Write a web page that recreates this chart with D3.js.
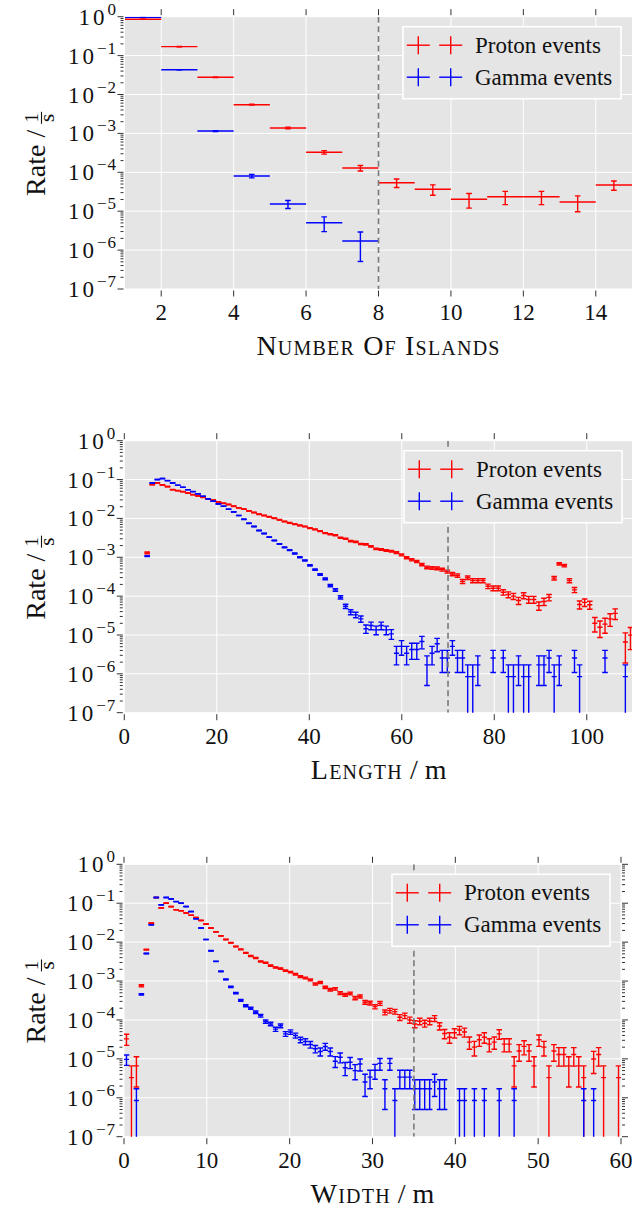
<!DOCTYPE html>
<html><head><meta charset="utf-8">
<script src="https://cdn.jsdelivr.net/npm/d3@7"></script>
<style>
html,body{margin:0;padding:0;background:#fff;}
svg{display:block;font-family:'Liberation Serif','DejaVu Serif','Times New Roman',Times,serif;}
svg text{font-family:'Liberation Serif','DejaVu Serif','Times New Roman',Times,serif;fill:#111;}
</style></head><body>
<svg id="fig" width="632" height="1211"></svg>
<script>
// ---------- Number of islands ----------
const islandCenters = [1.5, 2.5, 3.5, 4.5, 5.5, 6.5, 7.5, 8.5, 9.5, 10.5, 11.5, 12.5, 13.5, 14.5];
const islandProton = [0.86, 0.17, 0.0277, 0.00547, 0.00138, 3.27e-4, 1.29e-4, 5.4e-5, 3.66e-5, 2.02e-5, 2.36e-5, 2.36e-5, 1.72e-5, 4.71e-5];
const islandProtonErr = [1.68e-3, 7.5e-4, 3.0e-4, 1.34e-4, 6.7e-5, 3.3e-5, 2.06e-5, 1.33e-5, 1.1e-5, 8.2e-6, 8.8e-6, 8.8e-6, 7.5e-6, 1.25e-5];
const islandGamma = [0.96, 0.0434, 1.15e-3, 8.0e-5, 1.53e-5, 5.06e-6, 1.71e-6];
const islandGammaErr = [9.0e-4, 1.9e-4, 3.1e-5, 8.2e-6, 3.6e-6, 2.07e-6, 1.2e-6];
const islandTicks = [2, 4, 6, 8, 10, 12, 14];

// ---------- Length (bins of 1.1 m from 0 m) ----------
const lengthBinWidth = 1.1;
const lengthProton = [
  0, 0, 0, 0, 1.3e-3, 0.074, 0.082, 0.073, 0.066, 0.055,
  0.052, 0.049, 0.045, 0.041, 0.038, 0.035, 0.032, 0.0295, 0.0266, 0.0245,
  0.0228, 0.0206, 0.0187, 0.0173, 0.0156, 0.0142, 0.0128, 0.0119, 0.011, 0.0101,
  0.0092, 0.0083, 0.0077, 0.0071, 0.0066, 0.0062, 0.0056, 0.0052, 0.0047, 0.0042,
  0.0039, 0.0037, 0.0032, 0.0030, 0.0026, 0.0025, 0.0022, 0.00215, 0.0019, 0.00165,
  0.00158, 0.00149, 0.00144, 0.00132, 0.00115, 0.00097, 0.00086, 0.00078, 0.00065, 0.00055,
  0.00053, 0.00052, 0.00048, 0.00043, 0.00037, 0.00034, 0.00024, 0.00030, 0.00025, 0.00025,
  0.00025, 0.00018, 0.00016, 0.00016, 0.000126, 0.00011, 0.0001, 7.7e-5, 1.04e-4, 8.2e-5,
  8.2e-5, 5.7e-5, 7.3e-5, 9.3e-5, 2.9e-4, 6.8e-4, 6.1e-4, 2.5e-4, 1.45e-4, 6.1e-5,
  6.9e-5, 6.0e-5, 2.0e-5, 1.58e-5, 1.9e-5, 2.6e-5, 3.6e-5, 0, 6.6e-6, 9.9e-6];
const lengthProtonErr = [
  0, 0, 0, 0, 6.5e-5, 4.9e-4, 5.2e-4, 4.9e-4, 4.7e-4, 4.3e-4,
  4.1e-4, 4.0e-4, 3.9e-4, 3.7e-4, 3.5e-4, 3.4e-4, 3.2e-4, 3.1e-4, 3.0e-4, 2.8e-4,
  2.7e-4, 2.6e-4, 2.5e-4, 2.4e-4, 2.3e-4, 2.2e-4, 2.1e-4, 2.0e-4, 1.9e-4, 1.8e-4,
  1.7e-4, 1.65e-4, 1.6e-4, 1.5e-4, 1.5e-4, 1.4e-4, 1.36e-4, 1.3e-4, 1.25e-4, 1.18e-4,
  1.13e-4, 1.1e-4, 1.03e-4, 9.9e-5, 9.3e-5, 9.1e-5, 8.5e-5, 8.4e-5, 7.9e-5, 7.4e-5,
  7.2e-5, 7.0e-5, 6.9e-5, 6.6e-5, 6.2e-5, 5.7e-5, 5.3e-5, 5.1e-5, 4.6e-5, 4.3e-5,
  4.2e-5, 4.1e-5, 4.0e-5, 3.8e-5, 3.5e-5, 3.3e-5, 2.8e-5, 3.1e-5, 2.9e-5, 2.9e-5,
  2.9e-5, 2.4e-5, 2.3e-5, 2.3e-5, 2.0e-5, 1.9e-5, 1.8e-5, 1.6e-5, 1.85e-5, 1.64e-5,
  1.64e-5, 1.37e-5, 1.55e-5, 1.75e-5, 3.1e-5, 4.7e-5, 4.5e-5, 2.9e-5, 2.2e-5, 1.42e-5,
  1.5e-5, 1.4e-5, 8.1e-6, 7.2e-6, 7.9e-6, 9.3e-6, 1.09e-5, 0, 4.7e-6, 5.7e-6];
const lengthGamma = [
  0, 0, 0, 0, 1.07e-3, 0.082, 0.1, 0.106, 0.094, 0.082,
  0.071, 0.063, 0.055, 0.049, 0.043, 0.037, 0.032, 0.0276, 0.0236, 0.0205,
  0.0172, 0.0147, 0.0119, 0.0095, 0.0075, 0.0062, 0.0049, 0.0041, 0.0033, 0.0027,
  0.0022, 0.0018, 0.00152, 0.00125, 0.0010, 0.00083, 0.00062, 0.00048, 0.00036, 0.00028,
  1.87e-4, 1.45e-4, 9.3e-5, 5.5e-5, 3.9e-5, 3.3e-5, 2.6e-5, 1.45e-5, 1.75e-5, 1.35e-5,
  1.75e-5, 1.35e-5, 1.07e-5, 3.4e-6, 5.1e-6, 3.4e-6, 4.25e-6, 4.25e-6, 6.8e-6, 1.7e-6,
  3.4e-6, 5.95e-6, 2.55e-6, 2.55e-6, 5.1e-6, 2.55e-6, 2.55e-6, 8.5e-7, 8.5e-7, 1.7e-6,
  0, 0, 2.55e-6, 0, 2.55e-6, 8.5e-7, 8.5e-7, 1.7e-6, 8.5e-7, 8.5e-7,
  0, 1.7e-6, 1.7e-6, 2.55e-6, 8.5e-7, 1.7e-6, 0, 0, 2.55e-6, 8.5e-7,
  0, 0, 0, 0, 2.55e-6, 0, 0, 0, 8.5e-7, 0];
const lengthGammaErr = [
  0, 0, 0, 0, 3.0e-5, 2.6e-4, 2.9e-4, 3.0e-4, 2.8e-4, 2.6e-4,
  2.5e-4, 2.3e-4, 2.2e-4, 2.0e-4, 1.9e-4, 1.8e-4, 1.65e-4, 1.5e-4, 1.4e-4, 1.3e-4,
  1.2e-4, 1.1e-4, 1.0e-4, 9.0e-5, 8.0e-5, 7.3e-5, 6.5e-5, 5.9e-5, 5.3e-5, 4.8e-5,
  4.3e-5, 3.9e-5, 3.6e-5, 3.3e-5, 2.9e-5, 2.7e-5, 2.3e-5, 2.0e-5, 1.75e-5, 1.54e-5,
  1.26e-5, 1.1e-5, 8.9e-6, 6.8e-6, 5.8e-6, 5.3e-6, 4.7e-6, 3.5e-6, 3.9e-6, 3.4e-6,
  3.9e-6, 3.4e-6, 3.0e-6, 1.7e-6, 2.08e-6, 1.7e-6, 1.9e-6, 1.9e-6, 2.4e-6, 1.2e-6,
  1.7e-6, 2.25e-6, 1.47e-6, 1.47e-6, 2.08e-6, 1.47e-6, 1.47e-6, 8.5e-7, 8.5e-7, 1.2e-6,
  0, 0, 1.47e-6, 0, 1.47e-6, 8.5e-7, 8.5e-7, 1.2e-6, 8.5e-7, 8.5e-7,
  0, 1.2e-6, 1.2e-6, 1.47e-6, 8.5e-7, 1.2e-6, 0, 0, 1.47e-6, 8.5e-7,
  0, 0, 0, 0, 1.47e-6, 0, 0, 0, 8.5e-7, 0];
const lengthTicks = [0, 20, 40, 60, 80, 100];

// ---------- Width (bins of 0.6 m from 0 m) ----------
const widthBinWidth = 0.6;
const widthProton = [
  3.26e-5, 3.3e-6, 6.6e-6, 7.6e-4, 6.4e-3, 0.031, 0.14, 0.076, 0.10, 0.082,
  0.068, 0.064, 0.056, 0.049, 0.043, 0.036, 0.029, 0.023, 0.0184, 0.0145,
  0.0117, 0.0096, 0.0077, 0.0065, 0.0053, 0.0044, 0.0039, 0.0032, 0.00295, 0.0025,
  0.00223, 0.0021, 0.00185, 0.0017, 0.0015, 0.0013, 0.0012, 0.00107, 0.00084, 0.00092,
  0.00069, 0.0006, 0.00063, 0.00049, 0.000445, 0.00048, 0.000365, 0.000405, 0.000285, 0.000273,
  0.00022, 0.000267, 0.000158, 0.000174, 0.000164, 0.000117, 0.000129, 0.0001, 7.9e-5, 9.3e-5,
  8.2e-5, 9.3e-5, 1.1e-4, 7.0e-5, 4.5e-5, 3.6e-5, 4.7e-5, 5.5e-5, 4.9e-5, 2.7e-5,
  2.0e-5, 3.1e-5, 3.6e-5, 2.4e-5, 2.7e-5, 4.4e-5, 2.4e-5, 2.4e-5, 6.6e-6, 1.6e-5,
  2.1e-5, 1.6e-5, 6.6e-6, 3.1e-5, 2.0e-5, 3.3e-6, 1.6e-5, 1.3e-5, 1.3e-5, 6.6e-6,
  1.3e-5, 6.6e-6, 3.3e-6, 0, 9.9e-6, 1.3e-5, 3.3e-6, 0, 0, 3.3e-6];
const widthProtonErr = [
  1.04e-5, 3.3e-6, 4.7e-6, 5.0e-5, 1.45e-4, 3.2e-4, 6.8e-4, 5.0e-4, 5.7e-4, 5.2e-4,
  4.7e-4, 4.6e-4, 4.3e-4, 4.0e-4, 3.8e-4, 3.4e-4, 3.1e-4, 2.8e-4, 2.5e-4, 2.2e-4,
  2.0e-4, 1.8e-4, 1.6e-4, 1.46e-4, 1.32e-4, 1.2e-4, 1.13e-4, 1.03e-4, 9.9e-5, 9.1e-5,
  8.6e-5, 8.3e-5, 7.8e-5, 7.5e-5, 7.0e-5, 6.5e-5, 6.3e-5, 5.9e-5, 5.3e-5, 5.5e-5,
  4.8e-5, 4.4e-5, 4.6e-5, 4.0e-5, 3.8e-5, 4.0e-5, 3.5e-5, 3.7e-5, 3.1e-5, 3.0e-5,
  2.7e-5, 3.0e-5, 2.3e-5, 2.4e-5, 2.3e-5, 2.0e-5, 2.1e-5, 1.8e-5, 1.6e-5, 1.75e-5,
  1.64e-5, 1.75e-5, 1.9e-5, 1.5e-5, 1.2e-5, 1.09e-5, 1.25e-5, 1.35e-5, 1.27e-5, 9.4e-6,
  8.1e-6, 1.0e-5, 1.09e-5, 8.9e-6, 9.4e-6, 1.2e-5, 8.9e-6, 8.9e-6, 4.7e-6, 7.3e-6,
  8.3e-6, 7.3e-6, 4.7e-6, 1.0e-5, 8.1e-6, 3.3e-6, 7.3e-6, 6.5e-6, 6.5e-6, 4.7e-6,
  6.5e-6, 4.7e-6, 3.3e-6, 0, 5.7e-6, 6.5e-6, 3.3e-6, 0, 0, 3.3e-6];
const widthGamma = [
  9.7e-6, 0, 8.5e-7, 4.54e-4, 5.1e-3, 0.028, 0.14, 0.091, 0.14, 0.129,
  0.11, 0.1, 0.082, 0.061, 0.04, 0.023, 0.0117, 0.006, 0.0032, 0.00177,
  0.0011, 0.00071, 0.00049, 0.00032, 0.000233, 0.0002, 0.000158, 0.000129, 9.1e-5, 7.9e-5,
  5.8e-5, 7.1e-5, 4.4e-5, 4.9e-5, 4.0e-5, 3.1e-5, 2.8e-5, 2.34e-5, 1.82e-5, 1.55e-5,
  2.08e-5, 1.55e-5, 8.7e-6, 1.1e-5, 5.9e-6, 8.2e-6, 5.0e-6, 7.4e-6, 2.55e-6, 3.4e-6,
  5.1e-6, 7.65e-6, 1.7e-6, 7.65e-6, 8.5e-7, 3.4e-6, 3.4e-6, 3.4e-6, 1.7e-6, 1.7e-6,
  1.7e-6, 1.7e-6, 2.55e-6, 1.7e-6, 1.7e-6, 0, 0, 8.5e-7, 8.5e-7, 0,
  8.5e-7, 0, 8.5e-7, 0, 0, 8.5e-7, 0, 0, 8.5e-7, 0,
  0, 0, 0, 0, 0, 0, 0, 0, 0, 0,
  0, 0, 8.5e-7, 0, 8.5e-7, 0, 0, 0, 0, 0];
const widthGammaErr = [
  2.9e-6, 0, 8.5e-7, 2.0e-5, 6.6e-5, 1.54e-4, 3.4e-4, 2.8e-4, 3.4e-4, 3.3e-4,
  3.1e-4, 2.9e-4, 2.6e-4, 2.3e-4, 1.8e-4, 1.4e-4, 1.0e-4, 7.1e-5, 5.2e-5, 3.9e-5,
  3.1e-5, 2.5e-5, 2.0e-5, 1.65e-5, 1.4e-5, 1.3e-5, 1.16e-5, 1.05e-5, 8.8e-6, 8.2e-6,
  7.0e-6, 7.8e-6, 6.1e-6, 6.5e-6, 5.8e-6, 5.1e-6, 4.9e-6, 4.5e-6, 3.9e-6, 3.6e-6,
  4.2e-6, 3.6e-6, 2.7e-6, 3.1e-6, 2.2e-6, 2.6e-6, 2.1e-6, 2.5e-6, 1.47e-6, 1.7e-6,
  2.1e-6, 2.55e-6, 1.2e-6, 2.55e-6, 8.5e-7, 1.7e-6, 1.7e-6, 1.7e-6, 1.2e-6, 1.2e-6,
  1.2e-6, 1.2e-6, 1.47e-6, 1.2e-6, 1.2e-6, 0, 0, 8.5e-7, 8.5e-7, 0,
  8.5e-7, 0, 8.5e-7, 0, 0, 8.5e-7, 0, 0, 8.5e-7, 0,
  0, 0, 0, 0, 0, 0, 0, 0, 0, 0,
  0, 0, 8.5e-7, 0, 8.5e-7, 0, 0, 0, 0, 0];
const widthTicks = [0, 10, 20, 30, 40, 50, 60];

const rateExponents = [0, -1, -2, -3, -4, -5, -6, -7];
const seriesNames = ["Proton events", "Gamma events"];

// ---------- drawing ----------
const FONT = "'Liberation Serif','DejaVu Serif','Times New Roman',Times,serif";
const svg = d3.select("#fig").attr("font-family", FONT);
const PROTON = "#ff0000", GAMMA = "#0000ff";
const TICK = "#333";
const LW = 1.4;

function binCenters(n, w) { return d3.range(n).map(i => (i + 0.5) * w); }

function drawPanel(p) {
  const x = d3.scaleLinear().domain(p.xDomain).range([p.left, p.right]);
  const y = d3.scaleLog().domain([1e-7, 1]).range([p.bottom, p.top]);
  const g = svg.append("g").attr("font-family", FONT);

  svg.append("clipPath").attr("id", "clip-" + p.id)
    .append("rect").attr("x", p.left).attr("y", p.top)
    .attr("width", p.right - p.left).attr("height", p.bottom - p.top);

  g.append("rect").attr("x", p.left).attr("y", p.top)
    .attr("width", p.right - p.left).attr("height", p.bottom - p.top)
    .attr("fill", "#e5e5e5");

  // grid
  const decades = rateExponents.map(e => Math.pow(10, e));
  g.append("g").selectAll("line").data(decades).join("line")
    .attr("x1", p.left).attr("x2", p.right)
    .attr("y1", d => y(d)).attr("y2", d => y(d))
    .attr("stroke", "#fff").attr("stroke-width", 1);
  g.append("g").selectAll("line").data(p.xTicks).join("line")
    .attr("x1", d => x(d)).attr("x2", d => x(d))
    .attr("y1", p.top).attr("y2", p.bottom)
    .attr("stroke", "#fff").attr("stroke-width", 1);

  // y ticks (left + right), major and minor
  const minors = [];
  for (let e = -7; e < 0; e++) for (let m = 2; m <= 9; m++) minors.push(m * Math.pow(10, e));
  const tk = g.append("g").attr("stroke", TICK).attr("stroke-width", 1);
  tk.selectAll("line.ymaj").data(decades).join("line").attr("class", "ymaj")
    .attr("x1", p.left - 7.5).attr("x2", p.left - 1.5)
    .attr("y1", d => y(d)).attr("y2", d => y(d));
  tk.selectAll("line.ymin").data(minors).join("line").attr("class", "ymin")
    .attr("x1", p.left - 4.5).attr("x2", p.left - 1.5)
    .attr("y1", d => y(d)).attr("y2", d => y(d));
  tk.selectAll("line.ymajr").data(decades).join("line").attr("class", "ymajr")
    .attr("x1", p.right + 1).attr("x2", p.right + 7)
    .attr("y1", d => y(d)).attr("y2", d => y(d));
  tk.selectAll("line.yminr").data(minors).join("line").attr("class", "yminr")
    .attr("x1", p.right + 1).attr("x2", p.right + 4)
    .attr("y1", d => y(d)).attr("y2", d => y(d));
  // x ticks (top + bottom)
  tk.selectAll("line.xb").data(p.xTicks).join("line").attr("class", "xb")
    .attr("x1", d => x(d)).attr("x2", d => x(d))
    .attr("y1", p.bottom + 1.5).attr("y2", p.bottom + 7.5);
  tk.selectAll("line.xt").data(p.xTicks).join("line").attr("class", "xt")
    .attr("x1", d => x(d)).attr("x2", d => x(d))
    .attr("y1", p.top - 1.5).attr("y2", p.top - 7.5);

  // y tick labels 10^e
  const yl = g.append("g").selectAll("text").data(rateExponents).join("text")
    .attr("x", p.left - 8).attr("y", e => y(Math.pow(10, e)) + 8)
    .attr("text-anchor", "end").attr("font-family", FONT);
  yl.append("tspan").attr("font-size", 23).attr("letter-spacing", 3).text("10");
  yl.append("tspan").attr("font-size", 17).attr("dy", -10).attr("letter-spacing", 1)
    .text(e => e < 0 ? "\u2212" + (-e) : String(e));

  // x tick labels
  g.append("g").selectAll("text").data(p.xTicks).join("text")
    .attr("x", d => x(d)).attr("y", p.bottom + 31)
    .attr("text-anchor", "middle").attr("font-size", 23).attr("font-family", FONT)
    .text(d => d);

  // x axis label
  const xl = g.append("text").attr("x", (p.left + p.right) / 2).attr("y", p.bottom + 66)
    .attr("text-anchor", "middle").attr("font-size", 28).attr("font-family", FONT);
  p.xLabel.forEach(part => {
    xl.append("tspan").style("font-variant", part.sc ? "small-caps" : "normal")
      .attr("letter-spacing", part.sc ? 1.2 : 0).text(part.t);
  });

  // y axis label: Rate / (1/s)
  const cy = (p.top + p.bottom) / 2 + 1;
  const lab = g.append("g").attr("transform", `translate(45,${cy}) rotate(-90)`).attr("font-family", FONT);
  const rt = lab.append("text").attr("font-size", 28).text("Rate /");
  const w = rt.node().getComputedTextLength();
  const fw = 12, gap = 6;
  const start = -(w + gap + fw) / 2;
  rt.attr("x", start).attr("y", 0);
  const fx = start + w + gap;
  lab.append("text").attr("x", fx + fw / 2).attr("y", -7).attr("text-anchor", "middle")
    .attr("font-size", 19).text("1");
  lab.append("line").attr("x1", fx).attr("x2", fx + fw).attr("y1", -3.5).attr("y2", -3.5)
    .attr("stroke", "#111").attr("stroke-width", 1.1);
  lab.append("text").attr("x", fx + fw / 2).attr("y", 8.5).attr("text-anchor", "middle")
    .attr("font-size", 21).text("s");

  // data: error bars
  const plot = g.append("g").attr("clip-path", `url(#clip-${p.id})`);
  p.series.forEach(s => {
    const pts = s.values.map((v, i) => ({ c: s.centers[i], v, e: s.errs[i] })).filter(d => d.v > 0);
    const sg = plot.append("g").attr("stroke", s.color).attr("stroke-width", LW).attr("fill", "none");
    const cap = 2.8;
    pts.forEach(d => {
      const yc = y(d.v);
      sg.append("line").attr("x1", x(d.c - s.half)).attr("x2", x(d.c + s.half))
        .attr("y1", yc).attr("y2", yc);
      if (d.e > 0) {
        const yt = y(d.v + d.e);
        const lo = d.v - d.e;
        const yb = lo > 0 ? y(lo) : p.bottom + 20;
        const xc = x(d.c);
        sg.append("line").attr("x1", xc).attr("x2", xc).attr("y1", yt).attr("y2", yb);
        sg.append("line").attr("x1", xc - cap).attr("x2", xc + cap).attr("y1", yt).attr("y2", yt);
        if (lo > 0) sg.append("line").attr("x1", xc - cap).attr("x2", xc + cap).attr("y1", yb).attr("y2", yb);
      }
    });
  });

  // cut marker
  plot.append("line").attr("x1", x(p.cut)).attr("x2", x(p.cut))
    .attr("y1", p.top).attr("y2", p.bottom)
    .attr("stroke", "#7a7a7a").attr("stroke-width", 1.6).attr("stroke-dasharray", "6,3.6");

  // legend
  const lw = 218, lh = 72;
  const lx = p.right - 11 - lw, ly = p.top + 10;
  const lg = g.append("g");
  lg.append("rect").attr("x", lx).attr("y", ly).attr("width", lw).attr("height", lh)
    .attr("fill", "#e5e5e5").attr("stroke", "#fff").attr("stroke-width", 1.6);
  [PROTON, GAMMA].forEach((col, k) => {
    const ry = ly + 18.5 + k * 32;
    [15.3, 47.7].forEach(dx => {
      lg.append("line").attr("x1", lx + dx - 11.5).attr("x2", lx + dx + 11.5)
        .attr("y1", ry).attr("y2", ry).attr("stroke", col).attr("stroke-width", LW);
      lg.append("line").attr("x1", lx + dx).attr("x2", lx + dx)
        .attr("y1", ry - 9).attr("y2", ry + 9).attr("stroke", col).attr("stroke-width", LW);
    });
    lg.append("text").attr("x", lx + 72).attr("y", ry + 7.5).attr("font-size", 23)
      .attr("font-family", FONT).text(seriesNames[k]);
  });
}

drawPanel({
  id: "islands", left: 125, right: 632, top: 16.7, bottom: 289,
  xDomain: [1, 15], xTicks: islandTicks, cut: 8,
  xLabel: [{ t: "Number Of Islands", sc: true }],
  series: [
    { values: islandProton, errs: islandProtonErr, centers: islandCenters, half: 0.5, color: PROTON },
    { values: islandGamma, errs: islandGammaErr, centers: islandCenters, half: 0.5, color: GAMMA }
  ]
});

const lengthCenters = binCenters(lengthProton.length, lengthBinWidth);
drawPanel({
  id: "length", left: 124.3, right: 633, top: 440.7, bottom: 712.7,
  xDomain: [0, 110], xTicks: lengthTicks, cut: 70,
  xLabel: [{ t: "Length", sc: true }, { t: " / m", sc: false }],
  series: [
    { values: lengthProton, errs: lengthProtonErr, centers: lengthCenters, half: lengthBinWidth / 2, color: PROTON },
    { values: lengthGamma, errs: lengthGammaErr, centers: lengthCenters, half: lengthBinWidth / 2, color: GAMMA }
  ]
});

const widthCenters = binCenters(widthProton.length, widthBinWidth);
drawPanel({
  id: "width", left: 124, right: 621, top: 864.3, bottom: 1136.7,
  xDomain: [0, 60], xTicks: widthTicks, cut: 35,
  xLabel: [{ t: "Width", sc: true }, { t: " / m", sc: false }],
  series: [
    { values: widthProton, errs: widthProtonErr, centers: widthCenters, half: widthBinWidth / 2, color: PROTON },
    { values: widthGamma, errs: widthGammaErr, centers: widthCenters, half: widthBinWidth / 2, color: GAMMA }
  ]
});
</script>
</body></html>
